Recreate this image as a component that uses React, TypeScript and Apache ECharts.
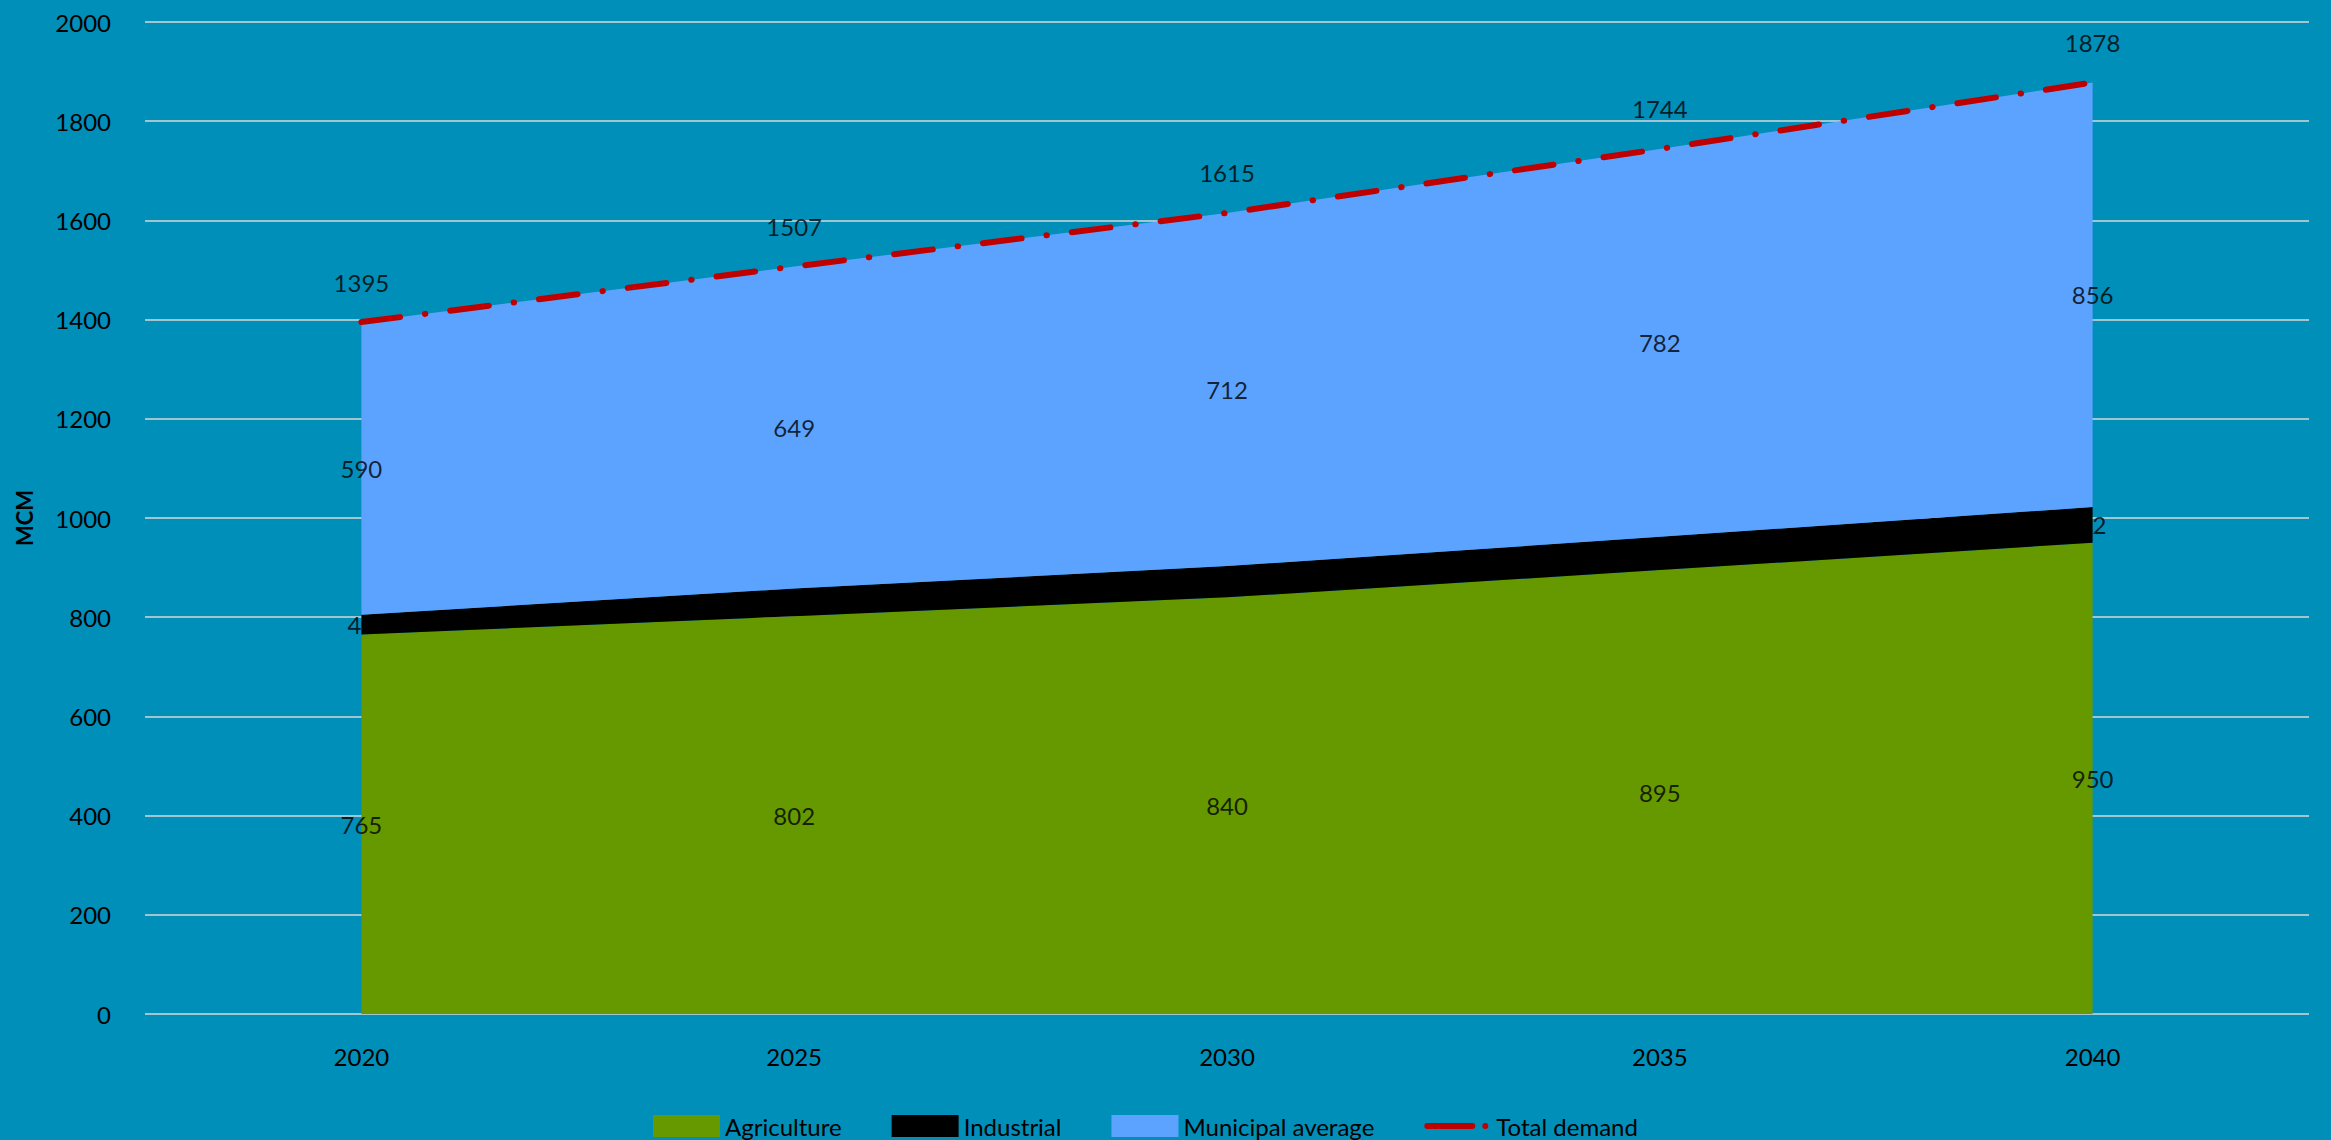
import React, { useEffect, useRef } from "react";
import * as echarts from "echarts";

const categories = ["2020", "2025", "2030", "2035", "2040"];
const agriculture = [765, 802, 840, 895, 950];
const industrial = [40, 56, 63, 67, 72];
const municipal = [590, 649, 712, 782, 856];
const totalDemand = [1395, 1507, 1615, 1744, 1878];
const yTicks = { min: 0, max: 2000, interval: 200 };

const FONT = "Lato";
const BG = "#008FB8";
const GREEN = "#669900";
const BLACK = "#000000";
const BLUE = "#5CA3FF";
const RED = "#C00000";

export default function App() {
  const ref = useRef<HTMLDivElement>(null);
  useEffect(() => {
    if (!ref.current) return;
    const chart = echarts.init(ref.current, undefined, { renderer: "svg" });

    const agriMid = agriculture.map((v) => v / 2);
    const indMid = industrial.map((v, i) => agriculture[i] + v / 2);
    const munMid = municipal.map((v, i) => agriculture[i] + industrial[i] + v / 2);

    const labelText = { fontFamily: FONT, fontSize: 24, color: "#000" };

    const areaSeries = (name: string, data: number[], color: string) => ({
      name,
      type: "line",
      stack: "demand",
      data,
      color,
      symbol: "none",
      lineStyle: { width: 0, color },
      areaStyle: { color, opacity: 1 },
      itemStyle: { color },
      z: 2,
    });

    const labelSeries = (name: string, mids: number[], values: number[], z: number) => ({
      name,
      type: "scatter",
      data: mids,
      symbolSize: 0,
      z,
      silent: true,
      label: {
        show: true,
        position: "inside",
        ...labelText,
        formatter: (p: any) => String(values[p.dataIndex]),
      },
    });

    chart.setOption({
      animation: false,
      backgroundColor: BG,
      textStyle: { fontFamily: FONT },
      grid: { left: 145, right: 22, top: 22, bottom: 126, containLabel: false },
      legend: {
        left: 648,
        top: 1106,
        itemWidth: 67,
        itemHeight: 22,
        itemGap: 50,
        textStyle: { fontFamily: FONT, fontSize: 24, color: "#000", lineHeight: 30 },
        itemStyle: { borderWidth: 0 },
        data: [
          { name: "Agriculture", icon: "rect" },
          { name: "Industrial", icon: "rect" },
          { name: "Municipal average", icon: "rect" },
          {
            name: "Total demand",
            icon:
              "path://M0,0 L0.01,0 L0,0.01 Z M0,8 L48,8 A3,3 0 0 1 48,14 L3,14 A3,3 0 0 1 3,8 Z M61,8 A3,3 0 0 1 61,14 A3,3 0 0 1 61,8 Z M67,22 L66.99,22 L67,21.99 Z",
            itemStyle: { color: RED, borderWidth: 0 },
            lineStyle: { width: 0 },
          },
        ],
      },
      xAxis: {
        type: "category",
        data: categories,
        boundaryGap: true,
        axisLine: { show: false },
        axisTick: { show: false },
        axisLabel: { margin: 30, ...labelText },
      },
      yAxis: {
        type: "value",
        ...yTicks,
        name: "MCM",
        nameLocation: "middle",
        nameGap: 110,
        nameTextStyle: { fontFamily: FONT, fontSize: 22, fontWeight: "bold", color: "#000" },
        axisLine: { show: false },
        axisTick: { show: false },
        axisLabel: { margin: 34, ...labelText, formatter: (v: number) => String(v) },
        splitLine: { lineStyle: { color: "#D9D9D9", width: 1.5 } },
      },
      series: [
        areaSeries("Agriculture", agriculture, GREEN),
        areaSeries("Industrial", industrial, BLACK),
        areaSeries("Municipal average", municipal, BLUE),
        {
          name: "Total demand",
          type: "line",
          data: totalDemand,
          color: RED,
          symbol: "none",
          z: 5,
          lineStyle: { color: RED, width: 6, type: [39, 25, 0.5, 25], cap: "round" },
          itemStyle: { color: RED },
        },
        labelSeries("lbl-ind", indMid, industrial, 1),
        labelSeries("lbl-agri", agriMid, agriculture, 4),
        labelSeries("lbl-mun", munMid, municipal, 4),
        {
          name: "lbl-total",
          type: "scatter",
          data: totalDemand,
          symbolSize: 0,
          z: 6,
          silent: true,
          label: {
            show: true,
            position: "top",
            distance: 28,
            ...labelText,
            formatter: (p: any) => String(totalDemand[p.dataIndex]),
          },
        },
      ],
    });
    return () => chart.dispose();
  }, []);
  return (
    <div
      ref={ref}
      style={{ position: "fixed", left: 0, top: 0, width: 2331, height: 1140 }}
    />
  );
}
